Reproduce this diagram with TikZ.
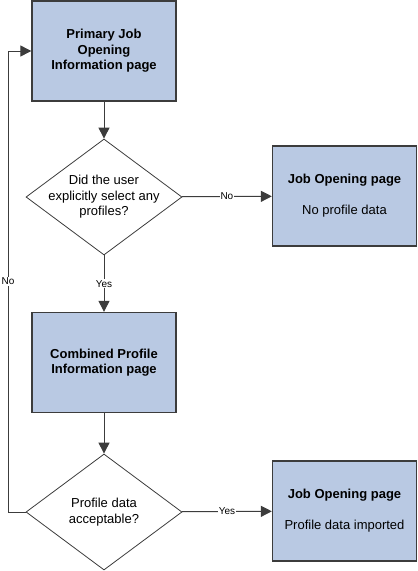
\documentclass[tikz,border=0pt]{standalone}
\usepackage{fontspec}
\setmainfont{Liberation Sans}
\usetikzlibrary{shapes.geometric,quotes,arrows.meta}

\definecolor{pagefill}{HTML}{B9C9E3}
\definecolor{linegray}{HTML}{3C3C3C}

\begin{document}
\begin{tikzpicture}[x=1pt,y=1pt,font=\fontsize{13}{15.5}\selectfont,
        page/.style={draw=linegray,line width=1.3pt,fill=pagefill,minimum width=144pt,minimum height=100pt,align=center},
        question/.style={diamond,draw=linegray,line width=0.8pt,aspect=1.345,inner xsep=-9pt,inner ysep=0pt,minimum width=156pt,minimum height=116pt,align=center},
        flow/.style={draw=linegray,line width=1pt,>={Triangle[length=11pt,width=11pt]}},
        every edge quotes/.style={fill=white,inner sep=1pt,font=\fontsize{10}{11}\selectfont}]
        \useasboundingbox (0,0) rectangle (418,-571);
        \node[page] at (104,-51) (primary) {\textbf{Primary Job}\\\textbf{Opening}\\\textbf{Information page}};
        \node[question] at (104,-197) (select) {Did the user\\explicitly select any\\profiles?} edge[flow,<-] (primary);
        \node[page] at (344.5,-196) (noprofile) {\textbf{Job Opening page}\\[15.5pt]No profile data} edge[flow,<-,"No"] (select);
        \node[page] at (104,-362.5) (combined) {\textbf{Combined Profile}\\\textbf{Information page}} edge[flow,<-,"Yes"] (select);
        \node[question] at (104,-512) (accept) {Profile data\\acceptable?} edge[flow,<-] (combined);
        \node[page] at (344.5,-511) (imported) {\textbf{Job Opening page}\\[15.5pt]Profile data imported} edge[flow,<-,"Yes"] (accept);

        % loop back when the data is not acceptable
        \coordinate (loopcorner) at (8,-512);
        \draw[flow,->] (accept) -- (loopcorner) |- node[pos=.25,fill=white,inner sep=1pt,font=\fontsize{10}{11}\selectfont] {No} (primary);
    \end{tikzpicture}
\end{document}
